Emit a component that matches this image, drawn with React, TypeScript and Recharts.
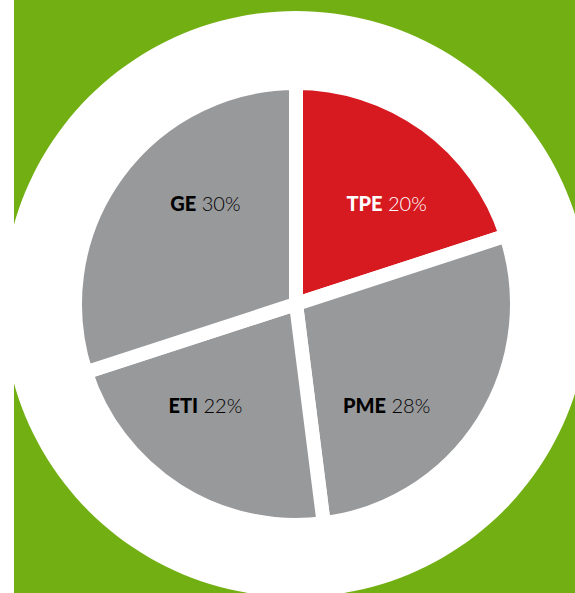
import React from "react";
import { PieChart, Pie, Cell } from "recharts";

const categories = ["TPE", "PME", "ETI", "GE"];
const shares = [20, 28, 22, 30];
const sliceColors = ["#D71A20", "#98999B", "#98999B", "#98999B"];
const labelColors = ["#FFFFFF", "#000000", "#000000", "#000000"];

const data = categories.map((name, i) => ({ name, value: shares[i] }));
const backdrop = [{ name: "bg", value: 1 }];

const RAD = Math.PI / 180;

const renderLabel = (props: any) => {
  const { cx, cy, midAngle, outerRadius, index, value, name } = props;
  const sx = Math.cos(-midAngle * RAD) >= 0 ? 1 : -1;
  const sy = Math.sin(-midAngle * RAD) >= 0 ? 1 : -1;
  const x = cx + sx * outerRadius * 0.41;
  const y = cy + sy * outerRadius * (sy < 0 ? 0.455 : 0.458);
  const color = labelColors[index];
  return (
    <text
      x={x}
      y={y}
      textAnchor="middle"
      dominantBaseline="central"
      fontFamily="Lato, 'Open Sans', sans-serif"
      fontSize={20}
      fill={color}
    >
      <tspan fontWeight={900}>{name}</tspan>
      <tspan fontWeight={300}>{` ${value}%`}</tspan>
    </text>
  );
};

export default function App() {
  return (
    <div style={{ position: "fixed", left: 0, top: 0, width: 575, height: 593, background: "#ffffff" }}>
      <div style={{ position: "absolute", left: 14, top: 0, width: 561, height: 593, background: "#72AF13" }} />
      <div style={{ position: "absolute", left: 0, top: 0 }}>
        <PieChart width={575} height={593} margin={{ top: 0, right: 0, bottom: 0, left: 0 }}>
          <Pie
            data={backdrop}
            dataKey="value"
            cx={296}
            cy={304}
            innerRadius={0}
            outerRadius={293}
            startAngle={90}
            endAngle={-270}
            fill="#FFFFFF"
            stroke="none"
            isAnimationActive={false}
          />
          <Pie
            data={data}
            dataKey="value"
            nameKey="name"
            cx={296}
            cy={304}
            innerRadius={0}
            outerRadius={221}
            startAngle={90}
            endAngle={-270}
            stroke="#FFFFFF"
            strokeWidth={14}
            label={renderLabel}
            labelLine={false}
            isAnimationActive={false}
          >
            {data.map((d, i) => (
              <Cell key={d.name} fill={sliceColors[i]} stroke="#FFFFFF" strokeWidth={14} />
            ))}
          </Pie>
        </PieChart>
      </div>
    </div>
  );
}
